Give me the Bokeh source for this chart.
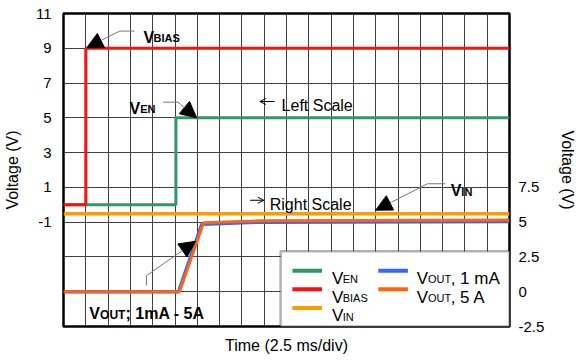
from bokeh.plotting import figure
from bokeh.models import (Range1d, LinearAxis, FixedTicker, SingleIntervalTicker, Label,
                          Arrow, NormalHead, OpenHead, BoxAnnotation, CustomJSTickFormatter)
from bokeh.embed import file_html
from bokeh.resources import INLINE

# ---------------- data (time in ms, 2.5 ms/div) ----------------
t_en = [0, 12.6, 12.6, 50]
v_en = [0, 0, 5, 5]                 # left scale
t_bias = [0, 2.5, 2.5, 50]
v_bias = [0, 0, 9, 9]               # left scale
t_in = [0, 50]
v_in = [5.6, 5.6]                   # right scale
t_out_1ma = [0, 12.9, 15.5, 22, 50]
v_out_1ma = [0, 0, 4.85, 5.0, 5.05]  # right scale
t_out_5a = [0, 13.0, 15.7, 22, 50]
v_out_5a = [0, 0, 4.95, 5.1, 5.15]   # right scale

left_ticks = [-1, 1, 3, 5, 7, 9, 11]
right_ticks = [-2.5, 0, 2.5, 5, 7.5]
y_grid = [-7, -5, -3, -1, 1, 3, 5, 7, 9, 11]

C_EN = "#2E9966"
C_BIAS = "#FF1010"
C_IN = "#FF9A00"
C_OUT5 = "#FF6414"
C_OUT1 = "#3366FF"

FONT = "Liberation Sans"

p = figure(width=579, height=356, output_backend="svg", toolbar_location=None,
           x_range=Range1d(0, 50), y_range=Range1d(-7, 11),
           min_border_left=58, min_border_right=69, min_border_top=13, min_border_bottom=23)
p.extra_y_ranges = {"right": Range1d(-2.5, 20)}
p.background_fill_color = "white"
p.border_fill_color = "white"
p.outline_line_color = "black"
p.outline_line_width = 2.5

# grid
p.xgrid.ticker = SingleIntervalTicker(interval=2.5, num_minor_ticks=0)
p.ygrid.ticker = FixedTicker(ticks=y_grid)
for g in (p.xgrid, p.ygrid):
    g.grid_line_color = "#404040"
    g.grid_line_width = 1
    g.grid_line_alpha = 1

# axes
xa = p.xaxis[0]
xa.ticker = FixedTicker(ticks=[])
xa.axis_label = "Time (2.5 ms/div)"
xa.axis_label_text_font = FONT
xa.axis_label_text_font_size = "16px"
xa.axis_label_text_font_style = "normal"
xa.axis_label_text_color = "black"
xa.axis_label_standoff = 10
xa.major_label_standoff = 0
xa.axis_line_color = None
xa.major_tick_out = 0
xa.major_tick_in = 0
xa.minor_tick_out = 0
xa.minor_tick_in = 0

ya = p.yaxis[0]
ya.ticker = FixedTicker(ticks=left_ticks)
ya.formatter = CustomJSTickFormatter(code="return String(tick);")
ya.axis_label = "Voltage (V)"


def style_y(ax, standoff, label_standoff):
    ax.axis_label_text_font = FONT
    ax.axis_label_text_font_size = "16px"
    ax.axis_label_text_font_style = "normal"
    ax.axis_label_text_color = "black"
    ax.major_label_text_font = FONT
    ax.major_label_text_font_size = "15px"
    ax.major_label_text_color = "black"
    ax.major_label_standoff = standoff
    ax.axis_label_standoff = label_standoff
    ax.axis_line_color = None
    ax.major_tick_out = 0
    ax.major_tick_in = 0
    ax.minor_tick_out = 0
    ax.minor_tick_in = 0


style_y(ya, 12, 12)

ra = LinearAxis(y_range_name="right", ticker=FixedTicker(ticks=right_ticks),
                axis_label="Voltage (V)",
                formatter=CustomJSTickFormatter(code="return String(tick);"))
style_y(ra, 9, 12)
p.add_layout(ra, "right")

# traces
p.line(t_in, v_in, y_range_name="right", line_color=C_IN, line_width=3.5)
p.line(t_out_1ma, v_out_1ma, y_range_name="right", line_color=C_OUT1, line_width=3.5)
p.line(t_out_5a, v_out_5a, y_range_name="right", line_color=C_OUT5, line_width=3)
p.line(t_en, v_en, line_color=C_EN, line_width=3)
p.line(t_bias, v_bias, line_color=C_BIAS, line_width=3)


# ---------------- annotations ----------------
def lab(x, y, text, size, bold=False):
    p.add_layout(Label(x=x, y=y, text=text, text_font=FONT, text_font_size=size,
                       text_font_style="bold" if bold else "normal", text_color="black",
                       text_align="left", text_baseline="alphabetic"))


def leader(x0, y0, x1, y1, head=None, color="#777777", width=1):
    p.add_layout(Arrow(start=None, end=head, x_start=x0, y_start=y0, x_end=x1, y_end=y1,
                       line_color=color, line_width=width))


def big_head():
    return NormalHead(size=16, fill_color="black", line_color="black", line_width=1)


# V_BIAS
lab(8.96, 9.63, "V", "16px", True)
lab(10.1, 9.57, "BIAS", "11px", True)
leader(7.96, 9.99, 6.31, 9.99)
leader(6.31, 9.99, 2.6, 9.03, big_head())

# V_EN
lab(7.41, 5.54, "V", "16px", True)
lab(8.6, 5.48, "EN", "11px", True)
leader(11.17, 5.9, 12.83, 5.9)
leader(12.83, 5.9, 14.93, 5.0, big_head())

# Left / Right scale
leader(23.67, 5.94, 22.01, 5.94, OpenHead(size=6, line_color="black", line_width=1), "black", 1)
lab(24.45, 5.71, "Left Scale", "16px")
leader(20.91, 0.26, 22.46, 0.26, OpenHead(size=6, line_color="black", line_width=1), "black", 1)
lab(23.12, 0.03, "Right Scale", "16px")

# V_IN
lab(43.4, 0.82, "V", "16px", True)
lab(44.6, 0.76, "IN", "11px", True)
leader(42.81, 1.21, 40.82, 1.21)
leader(40.82, 1.21, 35.0, -0.31, big_head())

# V_OUT
lab(2.88, -6.27, "V", "16px", True)
lab(4.1, -6.33, "OUT", "12px", True)
lab(6.95, -6.27, "; 1mA - 5A", "16px", True)
leader(9.29, -4.64, 9.29, -4.08)
leader(9.29, -4.08, 14.8, -2.1, big_head())

# ---------------- legend ----------------
p.add_layout(BoxAnnotation(left=24.34, right=50, top=-2.67, bottom=-7,
                           fill_color="white", fill_alpha=1,
                           line_color="black", line_width=2.5))

rows = [-3.79, -4.86, -5.93]
leg1 = [(C_EN, "EN"), (C_BIAS, "BIAS"), (C_IN, "IN")]
for (c, sub), ry in zip(leg1, rows):
    leader(25.66, ry, 28.98, ry, None, c, 4)
    lab(30.09, ry - 0.45, "V", "17px")
    lab(31.3, ry - 0.5, sub, "11px")

leg2 = [(C_OUT1, ", 1 mA"), (C_OUT5, ", 5 A")]
for (c, tail), ry in zip(leg2, rows[:2]):
    leader(35.29, ry, 38.61, ry, None, c, 4)
    lab(39.6, ry - 0.45, "V", "17px")
    lab(40.85, ry - 0.5, "OUT", "11px")
    lab(43.4, ry - 0.45, tail, "17px")

open("out.html", "w").write(file_html(p, INLINE))
